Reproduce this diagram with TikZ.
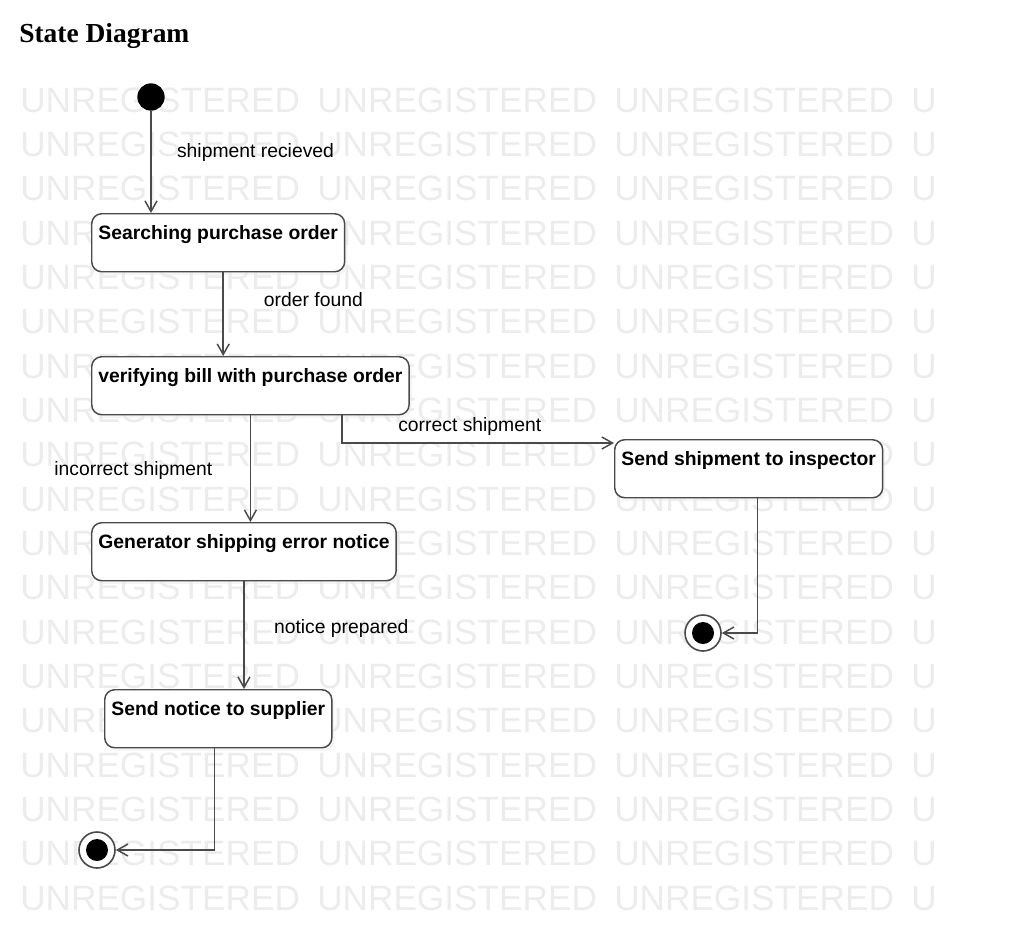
\documentclass[tikz,border=0pt]{standalone}
\usepackage{fontspec}
\setmainfont{Liberation Serif}
\newfontfamily\diagfont{Liberation Sans}
\usetikzlibrary{arrows.meta,shadows,positioning}
\definecolor{edgegray}{HTML}{4A4A4A}
\definecolor{markgray}{HTML}{ECECEC}

\begin{document}
\begin{tikzpicture}[x=0.75pt, y=-0.75pt,
  state/.style={draw=edgegray, line width=1.1pt, rounded corners=7.5pt, fill=white,
    font=\diagfont\bfseries\fontsize{14.5pt}{17pt}\selectfont,
    inner xsep=5pt, inner ysep=0pt, text height=19.5pt, text depth=24pt, anchor=north west,
    drop shadow={shadow xshift=2pt, shadow yshift=-2.5pt, fill=black!8}},
  trans/.style={draw=edgegray, line width=1.1pt, -{Straight Barb[length=8pt, width=9pt]}},
  lbl/.style={font=\diagfont\fontsize{14.5pt}{17pt}\selectfont, inner sep=0pt},
  wmark/.style={text=markgray, font=\diagfont\fontsize{26.4pt}{30pt}\selectfont,
    inner sep=0pt, anchor=base west},
  init/.style={circle, fill=black, minimum size=20.5pt, inner sep=0pt},
  final/.style={circle, draw=edgegray, line width=1.2pt, minimum size=27pt, inner sep=0pt, fill=white,
    path picture={\fill[black] (path picture bounding box.center) circle (8.25pt);}}]

\useasboundingbox (0,0) rectangle (1020,946);

% watermark rows
\foreach \r in {0,...,18}{
  \foreach \c in {0,1,2}
    \node[wmark] (w\r-\c) at ({20+297*\c},{112+44.35*\r}) {UNREGISTERED};
  \node[wmark] (w\r-3) at (911,{112+44.35*\r}) {U};
}

\node[anchor=base west, inner sep=0pt, font=\bfseries\fontsize{20.6pt}{24pt}\selectfont] (title) at (19,42) {State Diagram};

\node[init] (start) at (151,97) {};
\node[state] (search) at (91,213) {Searching purchase order};
\node[state] (verify) at (91,356) {verifying bill with purchase order};
\node[state] (inspect) at (614,439) {Send shipment to inspector};
\node[state] (notice) at (91,522) {Generator shipping error notice};
\node[state] (supplier) at (104,689) {Send notice to supplier};
\node[final] (end1) at (97,850) {};
\node[final] (end2) at (703,633) {};

\draw[trans] (start) -- (start |- search.north)
  node[lbl, pos=0.41, right=19pt] (l1) {shipment recieved};
\draw[trans] ([xshift=3.75pt]search.south) -- ([xshift=3.75pt]search.south |- verify.north)
  node[lbl, pos=0.32, right=30pt] (l2) {order found};
\draw[trans] (verify.south) -- (verify.south |- notice.north)
  node[lbl, pos=0.52, left=28pt] (l3) {incorrect shipment};
\draw[trans] ([xshift=68.6pt]verify.south) |- ([yshift=-3pt]inspect.north west)
  node[lbl, pos=0.735, above=5pt] (l4) {correct shipment};
\draw[trans] (notice.south) -- (notice.south |- supplier.north)
  node[lbl, pos=0.44, right=22pt] (l5) {notice prepared};
\draw[trans] ([xshift=-3pt]supplier.south) |- (end1);
\draw[trans] ([xshift=6.75pt]inspect.south) |- (end2);
\end{tikzpicture}
\end{document}
